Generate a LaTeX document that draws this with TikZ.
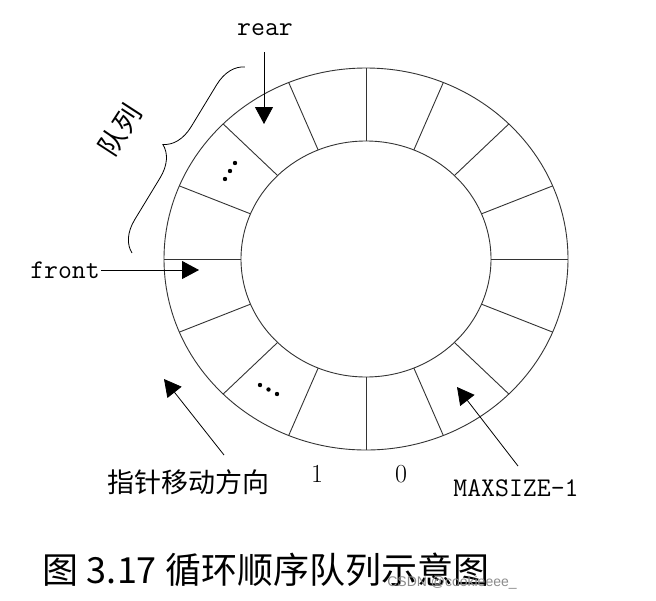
\documentclass[tikz,border=0pt]{standalone}
\usepackage{fontspec}
\newfontfamily\cjk{Noto Sans CJK SC}
\newfontfamily\wmfont{Liberation Sans}
\usetikzlibrary{arrows.meta,calc,decorations.pathreplacing}
\begin{document}
\begin{tikzpicture}[x=1pt,y=-1pt,
  ring/.style={line width=0.9pt,draw=black!80},
  ptr/.style={line width=0.8pt,draw=black,-{Triangle[length=17pt,width=18pt]}},
  mono/.style={font=\fontsize{27}{27}\selectfont\ttfamily,inner sep=1pt},
  serifnum/.style={font=\fontsize{26}{26}\selectfont,inner sep=0pt},
  cjklabel/.style={font=\fontsize{27}{27}\selectfont\cjk,inner sep=0pt},
  dotmark/.style={fill=black}]
\useasboundingbox (0,0) rectangle (656,600);
\fill[white] (0,0) rectangle (656,600);
\coordinate (c) at (366,259);
% ring
\draw[ring] (c) ellipse [x radius=202, y radius=191];
\draw[ring] (c) ellipse [x radius=125, y radius=118];
\foreach \a in {0,22.5,...,337.5}{
  \draw[ring] ($(c)+({125*cos(\a)},{-118*sin(\a)})$) -- ($(c)+({202*cos(\a)},{-191*sin(\a)})$);
}
% dots
\foreach \p in {(225,179),(230,171),(235,163),(260,385),(268.5,389.5),(277,394)}{
  \fill[dotmark] \p circle (2.2);
}
% rear
\node[mono] (rear) at (265,30) {rear};
\coordinate (reartail) at (264,52);
\coordinate (reartip) at (264,124);
\draw[ptr] (reartail) -- (reartip);
% front
\node[mono,anchor=east] (front) at (101,270) {front};
\coordinate (fronttip) at (199,270);
\draw[ptr] (front.east) -- (fronttip);
% direction
\coordinate (dirtail) at (224,455);
\coordinate (dirtip) at (164,379);
\draw[ptr] (dirtail) -- (dirtip);
\node[cjklabel] (dir) at (188,482) {指针移动方向};
% maxsize
\coordinate (maxtail) at (518,466);
\coordinate (maxtip) at (457,387);
\draw[ptr] (maxtail) -- (maxtip);
\node[mono] (maxs) at (516,488) {MAXSIZE-1};
% indices
\node[serifnum] (one) at (317,474) {1};
\node[serifnum] (zero) at (401,474) {0};
% brace and queue label
\draw[line width=0.8pt,decorate,decoration={brace,amplitude=30pt}] (132,253) -- (245,67);
\node[font=\fontsize{27}{27}\selectfont\cjk,rotate=57,inner sep=0pt] (queue) at (120,130) {队列};
% caption
\node[font=\fontsize{36}{36}\selectfont\cjk,inner sep=0pt] (cap) at (266,570) {图 3.17 循环顺序队列示意图};
\node[font=\fontsize{14}{14}\selectfont\wmfont,text=black!45,inner sep=0pt] (wm) at (452,583) {CSDN @cookieeee\_};
\end{tikzpicture}
\end{document}
